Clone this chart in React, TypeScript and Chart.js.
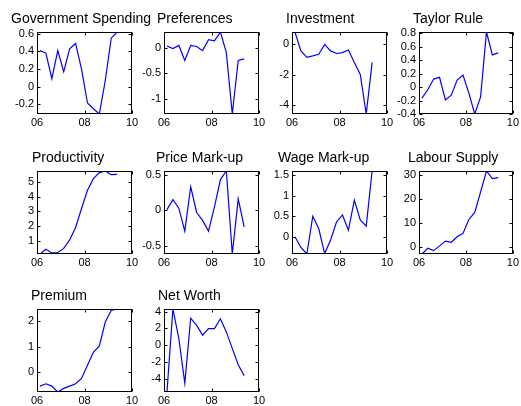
import React, { useEffect, useRef } from "react";
import { Chart, registerables } from "chart.js";

Chart.register(...registerables);

// ---- data ----
const quarters = [2006.125, 2006.375, 2006.625, 2006.875, 2007.125, 2007.375, 2007.625, 2007.875, 2008.125, 2008.375, 2008.625, 2008.875, 2009.125, 2009.375];
const xTicks = [2006, 2008, 2010];
const xTickLabels = ["06", "08", "10"];

const governmentSpending = [0.41, 0.38, 0.09, 0.41, 0.17, 0.43, 0.49, 0.2, -0.185, -0.25, -0.31, 0.07, 0.55, 0.62];
const governmentTicks = [-0.2, 0, 0.2, 0.4, 0.6];
const governmentLabels = ["-0.2", "0", "0.2", "0.4", "0.6"];

const preferences = [0.03, -0.02, 0.04, -0.25, 0.04, 0.02, -0.06, 0.15, 0.13, 0.3, -0.1, -1.285, -0.25, -0.22];
const preferencesTicks = [-1, -0.5, 0];
const preferencesLabels = ["-1", "-0.5", "0"];

const investment = [0.82, -0.43, -0.86, -0.76, -0.65, 0.0, -0.43, -0.6, -0.54, -0.37, -1.19, -1.99, -4.6, -1.19];
const investmentTicks = [-4, -2, 0];
const investmentLabels = ["-4", "-2", "0"];

const taylorRule = [-0.165, -0.04, 0.12, 0.145, -0.19, -0.12, 0.105, 0.18, -0.09, -0.4, -0.145, 0.82, 0.48, 0.51];
const taylorTicks = [-0.4, -0.2, 0, 0.2, 0.4, 0.6, 0.8];
const taylorLabels = ["-0.4", "-0.2", "0", "0.2", "0.4", "0.6", "0.8"];

const productivity = [0.12, 0.44, 0.19, 0.22, 0.5, 1.07, 1.92, 3.2, 4.44, 5.22, 5.63, 5.74, 5.49, 5.51];
const productivityTicks = [1, 2, 3, 4, 5];
const productivityLabels = ["1", "2", "3", "4", "5"];

const priceMarkup = [0.01, 0.15, 0.03, -0.29, 0.33, -0.03, -0.14, -0.29, 0.05, 0.43, 0.55, -0.61, 0.16, -0.23];
const priceTicks = [-0.5, 0, 0.5];
const priceLabels = ["-0.5", "0", "0.5"];

const wageMarkup = [0.0, -0.26, -0.42, 0.5, 0.2, -0.41, -0.08, 0.36, 0.53, 0.16, 0.89, 0.41, 0.26, 1.6];
const wageTicks = [0, 0.5, 1, 1.5];
const wageLabels = ["0", "0.5", "1", "1.5"];

const labourSupply = [-2.8, -0.4, -1.4, 0.6, 2.6, 2.1, 4.4, 5.8, 11.6, 14.5, 23.1, 31.8, 28.6, 29.0];
const labourTicks = [0, 10, 20, 30];
const labourLabels = ["0", "10", "20", "30"];

const premium = [-0.54, -0.45, -0.54, -0.77, -0.63, -0.54, -0.45, -0.24, 0.27, 0.78, 1.03, 1.96, 2.41, 2.47];
const premiumTicks = [0, 1, 2];
const premiumLabels = ["0", "1", "2"];

const netWorth = [-5.6, 4.3, 0.78, -4.55, 3.2, 2.35, 1.18, 1.96, 1.96, 3.14, 1.57, -0.4, -2.35, -3.65];
const netWorthTicks = [-4, -2, 0, 2, 4];
const netWorthLabels = ["-4", "-2", "0", "2", "4"];

const titles = ["Government Spending", "Preferences", "Investment", "Taylor Rule", "Productivity", "Price Mark-up", "Wage Mark-up", "Labour Supply", "Premium", "Net Worth"];
const seriesList = [governmentSpending, preferences, investment, taylorRule, productivity, priceMarkup, wageMarkup, labourSupply, premium, netWorth];
const tickList = [governmentTicks, preferencesTicks, investmentTicks, taylorTicks, productivityTicks, priceTicks, wageTicks, labourTicks, premiumTicks, netWorthTicks];
const labelList = [governmentLabels, preferencesLabels, investmentLabels, taylorLabels, productivityLabels, priceLabels, wageLabels, labourLabels, premiumLabels, netWorthLabels];

// ---- layout ----
const FIG_W = 521;
const FIG_H = 406;
const COL_LEFT = [37, 164, 292, 419];
const BOX_W = 95;
const ROW_TOP = [32, 171, 309];
const ROW_BOTTOM = [114, 254, 392];
const TITLE_LEFT = [11, 157, 286, 413, 32, 156, 278, 408, 31, 158];
const YW = 30;
const XH = 14;
const FONT = "'Liberation Sans', Arial, Helvetica, sans-serif";

function Panel({ index }: { index: number }) {
  const ref = useRef<HTMLCanvasElement | null>(null);
  useEffect(() => {
    if (!ref.current) return;
    const col = index % 4;
    const row = Math.floor(index / 4);
    const left = COL_LEFT[col];
    const right = left + BOX_W;
    const top = ROW_TOP[row];
    const bottom = ROW_BOTTOM[row];
    const values = seriesList[index];
    const yTicks = tickList[index];
    const yLabels = labelList[index];
    const title = titles[index];
    const titleX = TITLE_LEFT[index];

    const boxPlugin = {
      id: "matlabBox" + index,
      afterDraw(chart: any) {
        const ctx = chart.ctx;
        const a = chart.chartArea;
        const xs = chart.scales.x;
        const ys = chart.scales.y;
        ctx.save();
        ctx.strokeStyle = "#000";
        ctx.lineWidth = 1;
        const l = Math.round(a.left) + 0.5;
        const r = Math.round(a.right) - 0.5;
        const t = Math.round(a.top) + 0.5;
        const b = Math.round(a.bottom) - 0.5;
        ctx.strokeRect(l, t, r - l, b - t);
        const tl = 3;
        ctx.beginPath();
        yTicks.forEach((v) => {
          const y = Math.round(ys.getPixelForValue(v)) + 0.5;
          ctx.moveTo(l, y);
          ctx.lineTo(l + tl, y);
          ctx.moveTo(r, y);
          ctx.lineTo(r - tl, y);
        });
        xTicks.forEach((v) => {
          const x = Math.round(xs.getPixelForValue(v)) + 0.5;
          ctx.moveTo(x, b);
          ctx.lineTo(x, b - tl);
          ctx.moveTo(x, t);
          ctx.lineTo(x, t + tl);
        });
        ctx.stroke();
        ctx.fillStyle = "#000";
        ctx.font = "14px " + FONT;
        ctx.textAlign = "left";
        ctx.textBaseline = "alphabetic";
        ctx.fillText(title, titleX, a.top - 9.5);
        ctx.restore();
      },
    };

    const chart = new Chart(ref.current, {
      type: "line",
      data: {
        datasets: [
          {
            data: quarters.map((q, i) => ({ x: q, y: values[i] })),
            borderColor: "#0000ff",
            borderWidth: 1.2,
            pointRadius: 0,
            tension: 0,
            fill: false,
          },
        ],
      },
      options: {
        responsive: false,
        animation: false,
        devicePixelRatio: 1,
        events: [],
        layout: {
          padding: {
            left: left - YW,
            right: FIG_W - right,
            top: top,
            bottom: FIG_H - bottom - XH,
          },
        },
        plugins: {
          legend: { display: false },
          tooltip: { enabled: false },
          title: { display: false },
        },
        scales: {
          x: {
            type: "linear",
            min: 2006,
            max: 2010,
            grid: { display: false, drawTicks: false },
            border: { display: false },
            afterBuildTicks: (s: any) => {
              s.ticks = xTicks.map((v) => ({ value: v }));
            },
            afterFit: (s: any) => {
              s.height = XH;
            },
            ticks: {
              padding: 2,
              autoSkip: false,
              maxRotation: 0,
              color: "#000",
              font: { family: FONT, size: 11 },
              callback: (_v: any, i: number) => xTickLabels[i],
            },
          },
          y: {
            type: "linear",
            min: Math.min(...values),
            max: Math.max(...values),
            grid: { display: false, drawTicks: false },
            border: { display: false },
            afterBuildTicks: (s: any) => {
              s.ticks = yTicks.map((v) => ({ value: v }));
            },
            afterFit: (s: any) => {
              s.width = YW;
            },
            ticks: {
              padding: 3,
              autoSkip: false,
              color: "#000",
              font: { family: FONT, size: 11 },
              callback: (_v: any, i: number) => yLabels[i],
            },
          },
        },
      },
      plugins: [boxPlugin],
    } as any);
    return () => chart.destroy();
  }, [index]);

  return (
    <canvas
      ref={ref}
      width={FIG_W}
      height={FIG_H}
      style={{ position: "absolute", left: 0, top: 0, width: FIG_W, height: FIG_H }}
    />
  );
}

export default function App() {
  return (
    <div style={{ position: "absolute", left: 0, top: 0, width: FIG_W, height: FIG_H, background: "#fff" }}>
      {titles.map((_t, i) => (
        <Panel key={i} index={i} />
      ))}
    </div>
  );
}
